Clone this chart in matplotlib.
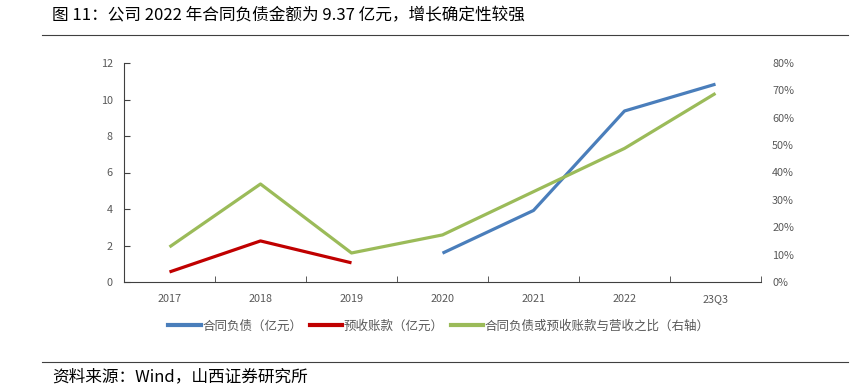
import numpy as np
import matplotlib.pyplot as plt
from matplotlib.lines import Line2D
from matplotlib.ticker import FuncFormatter

plt.rcParams['font.family'] = ['Noto Sans CJK SC', 'DejaVu Sans']

# data
years = ['2017', '2018', '2019', '2020', '2021', '2022', '23Q3']
contract_liab = [np.nan, np.nan, np.nan, 1.58, 3.92, 9.37, 10.84]   # 亿元
advance_recv = [0.55, 2.25, 1.05, np.nan, np.nan, np.nan, np.nan]   # 亿元
ratio_pct = [12.8, 35.8, 10.6, 17.2, 33.0, 48.8, 68.9]              # %, right axis

blue = '#4a7ebb'
red = '#c00000'
green = '#9bbb59'
grey = '#595959'

fig = plt.figure(figsize=(8.6, 3.87), dpi=100)
ax = fig.add_axes([124/860, 1-282/387, (761-124)/860, (282-63)/387])
ax2 = ax.twinx()

x = np.arange(len(years))
ax.plot(x, contract_liab, color=blue, lw=2.3, solid_capstyle='butt')
ax.plot(x, advance_recv, color=red, lw=2.3, solid_capstyle='butt')
ax2.plot(x, ratio_pct, color=green, lw=2.3, solid_capstyle='butt')

ax.set_xlim(-0.5, 6.5)
ax.set_ylim(0, 12)
ax2.set_ylim(0, 80)
ax.set_yticks(range(0, 13, 2))
ax2.set_yticks(range(0, 81, 10))
ax2.yaxis.set_major_formatter(FuncFormatter(lambda v, p: '%d%%' % v))

ax.set_xticks(x)
ax.set_xticklabels(years)
ax.set_xticks(np.arange(0.5, 7, 1), minor=True)
ax.tick_params(axis='x', which='major', length=0, pad=9, labelsize=7.8, labelcolor=grey)
ax.tick_params(axis='x', which='minor', direction='in', length=4, color='#404040')
ax.tick_params(axis='y', direction='in', length=4, color='#404040', labelsize=7.8, labelcolor=grey, pad=8)
ax2.tick_params(axis='y', length=0, labelsize=7.8, labelcolor=grey, pad=8)

for a in (ax, ax2):
    a.spines['top'].set_visible(False)
    a.spines['right'].set_visible(False)
ax2.spines['left'].set_visible(False)
ax2.spines['bottom'].set_visible(False)
ax.spines['left'].set_color('#404040')
ax.spines['bottom'].set_color('#404040')

handles = [Line2D([], [], color=blue, lw=3),
           Line2D([], [], color=red, lw=3),
           Line2D([], [], color=green, lw=3)]
labels = ['合同负债（亿元）', '预收账款（亿元）', '合同负债或预收账款与营收之比（右轴）']
fig.legend(handles, labels, loc='center', bbox_to_anchor=(439/860, 1-326/387), ncol=3,
           frameon=False, fontsize=9, handlelength=2.6, handletextpad=0.1, columnspacing=0.6,
           labelcolor=grey)

fig.text(52/860, 1-16/387, '图 11：公司 2022 年合同负债金额为 9.37 亿元，增长确定性较强',
         fontsize=12, va='center', ha='left', color='black')
fig.add_artist(Line2D([42/860, 848/860], [1-35/387, 1-35/387], color='#404040', lw=0.8))
fig.add_artist(Line2D([42/860, 848/860], [1-362/387, 1-362/387], color='#404040', lw=0.8))
fig.text(52/860, 1-377/387, '资料来源：Wind，山西证券研究所', fontsize=12, va='center', ha='left')

fig.savefig('out.png', dpi=100)
